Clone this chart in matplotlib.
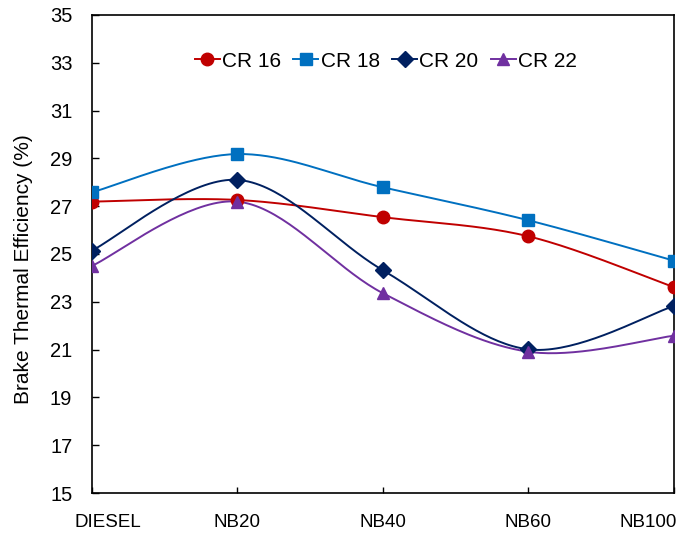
import numpy as np
import matplotlib
matplotlib.use("Agg")
import matplotlib.pyplot as plt
from matplotlib.transforms import ScaledTranslation

plt.rcParams['font.family'] = ['Liberation Sans', 'DejaVu Sans']

categories = ["DIESEL", "NB20", "NB40", "NB60", "NB100"]
cr16 = [27.19, 27.26, 26.54, 25.74, 23.61]
cr18 = [27.58, 29.18, 27.79, 26.41, 24.72]
cr20 = [25.14, 28.10, 24.32, 21.01, 22.82]
cr22 = [24.50, 27.19, 23.36, 20.91, 21.58]
series_names = ["CR 16", "CR 18", "CR 20", "CR 22"]
yticks = [15, 17, 19, 21, 23, 25, 27, 29, 31, 33, 35]


def smooth(xs, ys, n=40):
    """Excel-like smoothed line: Catmull-Rom converted to cubic Bezier."""
    pts = np.column_stack([xs, ys]).astype(float)
    m = len(pts)
    out = []
    for i in range(m - 1):
        p0 = pts[i - 1] if i > 0 else pts[i]
        p1 = pts[i]
        p2 = pts[i + 1]
        p3 = pts[i + 2] if i + 2 < m else pts[i + 1]
        c1 = p1 + (p2 - p0) / 6.0
        c2 = p2 - (p3 - p1) / 6.0
        t = np.linspace(0, 1, n)[:, None]
        seg = ((1 - t) ** 3) * p1 + 3 * ((1 - t) ** 2) * t * c1 + 3 * (1 - t) * t ** 2 * c2 + t ** 3 * p2
        out.append(seg if i == 0 else seg[1:])
    arr = np.vstack(out)
    return arr[:, 0], arr[:, 1]


fig = plt.figure(figsize=(6.8, 5.33), dpi=100)
ax = fig.add_axes([0.135, 0.075, 0.856, 0.897])

x = np.arange(len(categories))
styles = [
    (cr16, "#C00000", "o", 9),
    (cr18, "#0070C0", "s", 8.5),
    (cr20, "#002060", "D", 8),
    (cr22, "#7030A0", "^", 9),
]
for (vals, col, mk, ms), name in zip(styles, series_names):
    sx, sy = smooth(x, vals)
    ax.plot(sx, sy, color=col, lw=1.4, zorder=2)
    ax.plot(x, vals, linestyle='none', marker=mk, ms=ms, color=col, zorder=3)
    ax.plot([], [], color=col, lw=1.4, marker=mk, ms=ms, label=name)

ax.set_xlim(0, len(categories) - 1)
ax.set_ylim(15, 35)
ax.set_yticks(yticks)
ax.set_xticks(x)
ax.set_xticklabels(categories)
ax.tick_params(axis='both', direction='in', width=1, colors='black')
ax.tick_params(axis='y', length=5, pad=14, labelsize=14.5)
ax.tick_params(axis='x', length=4, pad=15, labelsize=13.5)
for sp in ax.spines.values():
    sp.set_linewidth(1.2)

labels = ax.get_xticklabels()
labels[0].set_transform(labels[0].get_transform() + ScaledTranslation(16.5 / 100, 0, fig.dpi_scale_trans))
labels[-1].set_transform(labels[-1].get_transform() + ScaledTranslation(-25.5 / 100, 0, fig.dpi_scale_trans))

ax.set_ylabel("Brake Thermal Efficiency (%)", fontsize=15)
ax.yaxis.set_label_coords(-0.101, 0.469)

ax.legend(loc='center', bbox_to_anchor=(0.505, 0.9035), ncol=4, frameon=False,
          fontsize=15, handlelength=1.2, handletextpad=0.1, columnspacing=0.6,
          borderaxespad=0, borderpad=0)

fig.savefig("out.png", dpi=100)
